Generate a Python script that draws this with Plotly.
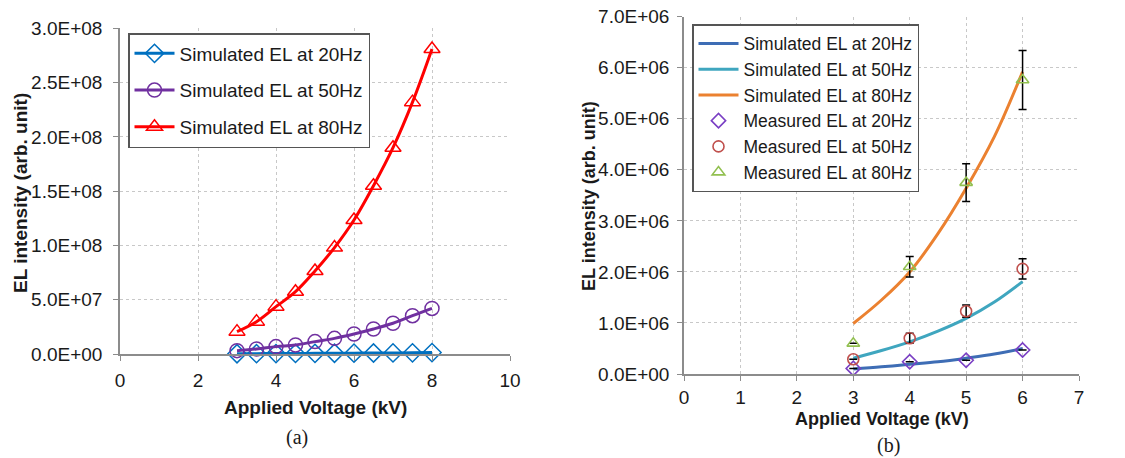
import plotly.graph_objects as go

# ---------------- data: panel (a) ----------------
volt_a = [3.0, 3.5, 4.0, 4.5, 5.0, 5.5, 6.0, 6.5, 7.0, 7.5, 8.0]
sim_a_20 = [2.0e5, 3.0e5, 4.0e5, 5.0e5, 6.0e5, 7.0e5, 8.0e5, 9.0e5, 1.0e6, 1.1e6, 1.3e6]
sim_a_50 = [3.1e6, 4.6e6, 6.8e6, 8.3e6, 1.14e7, 1.44e7, 1.84e7, 2.30e7, 2.83e7, 3.53e7, 4.20e7]
sim_a_80 = [2.06e7, 2.98e7, 4.36e7, 5.74e7, 7.65e7, 9.80e7, 1.234e8, 1.55e8, 1.90e8, 2.32e8, 2.81e8]

# ---------------- data: panel (b) ----------------
volt_b_sim = [3.0, 3.5, 4.0, 4.5, 5.0, 5.5, 6.0]
sim_b_20 = [1.0e5, 1.4e5, 1.9e5, 2.4e5, 3.1e5, 3.9e5, 5.0e5]
sim_b_50 = [3.1e5, 4.6e5, 6.3e5, 8.4e5, 1.09e6, 1.41e6, 1.81e6]
sim_b_80 = [9.9e5, 1.45e6, 2.0e6, 2.75e6, 3.64e6, 4.65e6, 5.92e6]

volt_b_meas = [3, 4, 5, 6]
meas_b_20 = [1.1e5, 2.4e5, 2.7e5, 4.7e5]
meas_b_50 = [2.9e5, 7.0e5, 1.23e6, 2.06e6]
meas_b_80 = [6.0e5, 2.10e6, 3.75e6, 5.76e6]
err_b_20 = [0, 0, 0, 0]
err_b_50 = [0, 1.0e5, 1.2e5, 2.0e5]
err_b_80 = [0, 2.0e5, 3.7e5, 5.8e5]

yticks_a = [0, 5e7, 1e8, 1.5e8, 2e8, 2.5e8, 3e8]
yticks_b = [0, 1e6, 2e6, 3e6, 4e6, 5e6, 6e6, 7e6]
xticks_a = [0, 2, 4, 6, 8, 10]
xticks_b = [0, 1, 2, 3, 4, 5, 6, 7]

FONT = "Liberation Sans, Arial, sans-serif"
SERIF = "Liberation Serif, Times New Roman, serif"
GRID = "#c8c8c8"
AXIS = "#8c8c8c"

fig = go.Figure()

# panel (a)
for name, ys, col, sym in [
    ("Simulated EL at 20Hz", sim_a_20, "#0070C0", "diamond-open"),
    ("Simulated EL at 50Hz", sim_a_50, "#7030A0", "circle-open"),
    ("Simulated EL at 80Hz", sim_a_80, "#FF0000", "triangle-up-open"),
]:
    fig.add_trace(go.Scatter(
        x=volt_a, y=ys, name=name, mode="lines+markers",
        line=dict(color=col, width=3, shape="spline"),
        marker=dict(symbol=sym, size=14, color=col, line=dict(width=1.5, color=col)),
        xaxis="x", yaxis="y", legend="legend", legendgroup=name, cliponaxis=False,
    ))

# panel (b) simulated lines
for name, ys, col in [
    ("Simulated EL at 20Hz", sim_b_20, "#3E6DB5"),
    ("Simulated EL at 50Hz", sim_b_50, "#3FA6BF"),
    ("Simulated EL at 80Hz", sim_b_80, "#EB8130"),
]:
    fig.add_trace(go.Scatter(
        x=volt_b_sim, y=ys, name=name, mode="lines",
        line=dict(color=col, width=3, shape="spline"),
        xaxis="x2", yaxis="y2", legend="legend2",
    ))

# panel (b) measured points
for name, ys, es, col, sym in [
    ("Measured EL at 20Hz", meas_b_20, err_b_20, "#7A3FC4", "diamond-open"),
    ("Measured EL at 50Hz", meas_b_50, err_b_50, "#C0504D", "circle-open"),
    ("Measured EL at 80Hz", meas_b_80, err_b_80, "#92C050", "triangle-up-open"),
]:
    fig.add_trace(go.Scatter(
        x=volt_b_meas, y=ys, name=name, mode="markers",
        marker=dict(symbol=sym, size=11, color=col, line=dict(width=1.6, color=col)),
        error_y=dict(type="data", array=es, visible=True, color="black",
                     thickness=1.5, width=4),
        xaxis="x2", yaxis="y2", legend="legend2", cliponaxis=False,
    ))

def fmt(v):
    return f"{v:.1E}"

axis_common = dict(
    showgrid=True, gridcolor=GRID, griddash="dot", gridwidth=1,
    showline=True, linecolor=AXIS, linewidth=1.5,
    ticks="outside", ticklen=5, tickcolor=AXIS, tickwidth=1,
    zeroline=False, automargin=False,
    tickfont=dict(family=FONT, size=19, color="#1a1a1a"),
)

fig.update_layout(
    template="none",
    width=1125, height=458,
    margin=dict(l=0, r=0, t=0, b=0, pad=0),
    paper_bgcolor="white", plot_bgcolor="white",
    font=dict(family=FONT, color="#1a1a1a"),
    xaxis=dict(domain=[120/1125, 510/1125], range=[0, 10], tickvals=xticks_a,
               ticktext=[str(v) for v in xticks_a], anchor="y",
               ticklabelstandoff=3, **axis_common),
    yaxis=dict(domain=[104/458, 429.7/458], range=[0, 3e8], tickvals=yticks_a,
               ticktext=[fmt(v) for v in yticks_a], anchor="x",
               ticklabelstandoff=7, **axis_common),
    xaxis2=dict(domain=[684/1125, 1079/1125], range=[0, 7], tickvals=xticks_b,
                ticktext=[str(v) for v in xticks_b], anchor="y2",
                ticklabelstandoff=0, **axis_common),
    yaxis2=dict(domain=[84/458, 441.3/458], range=[0, 7e6], tickvals=yticks_b,
                ticktext=[fmt(v) for v in yticks_b], anchor="x2",
                ticklabelstandoff=4, **axis_common),
    legend=dict(x=128/1125, y=1 - 33/458, xanchor="left", yanchor="top",
                bgcolor="white", bordercolor="#555555", borderwidth=1.5,
                font=dict(family=FONT, size=19, color="#1a1a1a"),
                tracegroupgap=9, itemwidth=40),
    legend2=dict(x=692/1125, y=1 - 24/458, xanchor="left", yanchor="top",
                 bgcolor="white", bordercolor="#555555", borderwidth=1.5,
                 font=dict(family=FONT, size=17.5, color="#1a1a1a"),
                 tracegroupgap=0, itemwidth=40),
    showlegend=True,
)

annotations = [
    dict(text="<b>Applied Voltage (kV)</b>", x=315/1125, y=1 - 407/458, font=dict(size=19)),
    dict(text="<b>Applied Voltage (kV)</b>", x=882/1125, y=1 - 419/458, font=dict(size=18)),
    dict(text="<b>EL intensity (arb. unit)</b>", x=20/1125, y=1 - 193/458, textangle=-90, font=dict(size=19)),
    dict(text="<b>EL intensity (arb. unit)</b>", x=589/1125, y=1 - 196/458, textangle=-90, font=dict(size=18)),
    dict(text="(a)", x=297/1125, y=1 - 437/458, font=dict(size=20, family=SERIF)),
    dict(text="(b)", x=888/1125, y=1 - 445/458, font=dict(size=20, family=SERIF)),
]
for a in annotations:
    f = dict(family=FONT, color="#1a1a1a")
    f.update(a.pop("font"))
    fig.add_annotation(xref="paper", yref="paper", xanchor="center", yanchor="middle",
                       showarrow=False, font=f, **a)

fig.write_html("out.html")
